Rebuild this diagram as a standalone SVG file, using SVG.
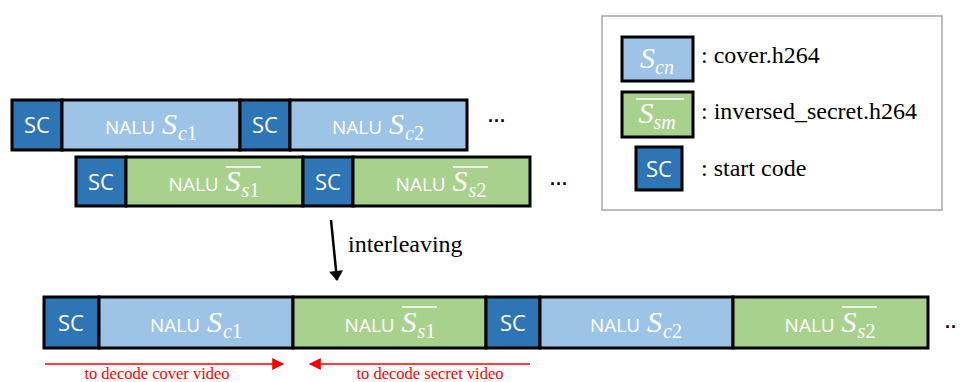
<svg xmlns="http://www.w3.org/2000/svg" width="960" height="382" viewBox="0 0 960 382">
<defs>
<style>
.sc{fill:#2E75B6;stroke:#000;stroke-width:3}
.cv{fill:#9DC3E6;stroke:#000;stroke-width:3}
.sv{fill:#A9D18E;stroke:#000;stroke-width:3}
.sct{font-family:"Open Sans","Liberation Sans",sans-serif;font-size:22px;fill:#fff;text-anchor:middle}
.nl{font-family:"Open Sans","Liberation Sans",sans-serif;font-size:19px;fill:#fff;text-anchor:middle}
.m{font-family:"Liberation Serif",serif;font-style:italic;font-size:30px}
.sub{font-family:"Liberation Serif",serif;font-style:italic;font-size:20px}
.subn{font-family:"Liberation Serif",serif;font-size:20px}
.ov{stroke:#fff;stroke-width:1.5}
.lg{font-family:"Liberation Serif",serif;font-size:24px;fill:#000}
.dots{font-family:"Liberation Sans",sans-serif;font-size:18px;fill:#000;font-weight:bold}
.red{font-family:"Liberation Serif",serif;font-size:16.5px;fill:#FF0000;text-anchor:middle}
</style>
<marker id="ah" viewBox="0 0 10 14" refX="9" refY="7" markerWidth="17" markerHeight="14" markerUnits="userSpaceOnUse" orient="auto"><path d="M0,0 L10,7 L0,14 z" fill="#000"/></marker>
<marker id="ar" viewBox="0 0 10 10" refX="9" refY="5" markerWidth="13" markerHeight="12" markerUnits="userSpaceOnUse" orient="auto"><path d="M0,0 L10,5 L0,10 z" fill="#FF0000"/></marker>
</defs>
<rect width="960" height="382" fill="#fff"/>

<g id="row1">
<rect class="sc" x="12" y="100" width="50" height="50"/>
<text class="sct" x="37" y="133">SC</text>
<rect class="cv" x="62" y="100" width="178" height="50"/>
<text class="nl" x="151" y="134">NALU <tspan class="m" dx="2">S</tspan><tspan class="sub" dx="1" dy="6">c</tspan><tspan class="subn">1</tspan></text>
<rect class="sc" x="240" y="100" width="50" height="50"/>
<text class="sct" x="265" y="133">SC</text>
<rect class="cv" x="290" y="100" width="177" height="50"/>
<text class="nl" x="378" y="134">NALU <tspan class="m" dx="2">S</tspan><tspan class="sub" dx="1" dy="6">c</tspan><tspan class="subn">2</tspan></text>
<text class="dots" x="488" y="127">···</text>
</g>

<g id="row2">
<rect class="sc" x="76" y="157" width="50" height="49"/>
<text class="sct" x="101" y="190">SC</text>
<rect class="sv" x="126" y="157" width="177" height="49"/>
<text class="nl" x="214" y="191">NALU <tspan class="m" dx="2">S</tspan><tspan class="sub" dx="1" dy="6">s</tspan><tspan class="subn">1</tspan></text>
<line class="ov" x1="226" y1="167" x2="261" y2="167"/>
<rect class="sc" x="303" y="157" width="50" height="49"/>
<text class="sct" x="328" y="190">SC</text>
<rect class="sv" x="353" y="157" width="177" height="49"/>
<text class="nl" x="441" y="191">NALU <tspan class="m" dx="2">S</tspan><tspan class="sub" dx="1" dy="6">s</tspan><tspan class="subn">2</tspan></text>
<line class="ov" x1="453" y1="167" x2="488" y2="167"/>
<text class="dots" x="550" y="190">···</text>
</g>

<g id="row3">
<rect class="sc" x="44" y="297" width="55" height="51"/>
<text class="sct" x="71" y="331">SC</text>
<rect class="cv" x="99" y="297" width="194" height="51"/>
<text class="nl" x="196" y="332">NALU <tspan class="m" dx="2">S</tspan><tspan class="sub" dx="1" dy="6">c</tspan><tspan class="subn">1</tspan></text>
<rect class="sv" x="293" y="297" width="193" height="51"/>
<text class="nl" x="390" y="332">NALU <tspan class="m" dx="2">S</tspan><tspan class="sub" dx="1" dy="6">s</tspan><tspan class="subn">1</tspan></text>
<line class="ov" x1="402" y1="307" x2="437" y2="307"/>
<rect class="sc" x="486" y="297" width="54" height="51"/>
<text class="sct" x="513" y="331">SC</text>
<rect class="cv" x="540" y="297" width="193" height="51"/>
<text class="nl" x="636" y="332">NALU <tspan class="m" dx="2">S</tspan><tspan class="sub" dx="1" dy="6">c</tspan><tspan class="subn">2</tspan></text>
<rect class="sv" x="733" y="297" width="195" height="51"/>
<text class="nl" x="830" y="332">NALU <tspan class="m" dx="2">S</tspan><tspan class="sub" dx="1" dy="6">s</tspan><tspan class="subn">2</tspan></text>
<line class="ov" x1="842" y1="307" x2="877" y2="307"/>
<text class="dots" x="945" y="333">··</text>
</g>

<g id="legend">
<rect x="602" y="16" width="340" height="194" fill="#fff" stroke="#A6A6A6" stroke-width="1.5"/>
<rect class="cv" x="622" y="37" width="71" height="44"/>
<text class="nl" x="657" y="68"><tspan class="m">S</tspan><tspan class="sub" dy="6">cn</tspan></text>
<text class="lg" x="701" y="63">: cover.h264</text>
<rect class="sv" x="622" y="92" width="71" height="45"/>
<text class="nl" x="657" y="123"><tspan class="m">S</tspan><tspan class="sub" dy="6">sm</tspan></text>
<line class="ov" x1="636" y1="99" x2="684" y2="99"/>
<text class="lg" x="701" y="119">: inversed_secret.h264</text>
<rect class="sc" x="636" y="147" width="46" height="43"/>
<text class="sct" x="659" y="177">SC</text>
<text class="lg" x="701" y="176">: start code</text>
</g>

<g id="connectors">
<path d="M331,220 L337,280" stroke="#000" stroke-width="2.5" fill="none" marker-end="url(#ah)"/>
<line x1="45" y1="364" x2="283" y2="364" stroke="#FF0000" stroke-width="1.5" marker-end="url(#ar)"/>
<line x1="530" y1="364" x2="310" y2="364" stroke="#FF0000" stroke-width="1.5" marker-end="url(#ar)"/>
</g>

<text class="lg" x="348" y="252">interleaving</text>
<text class="red" x="157" y="379">to decode cover video</text>
<text class="red" x="430" y="379">to decode secret video</text>
</svg>
